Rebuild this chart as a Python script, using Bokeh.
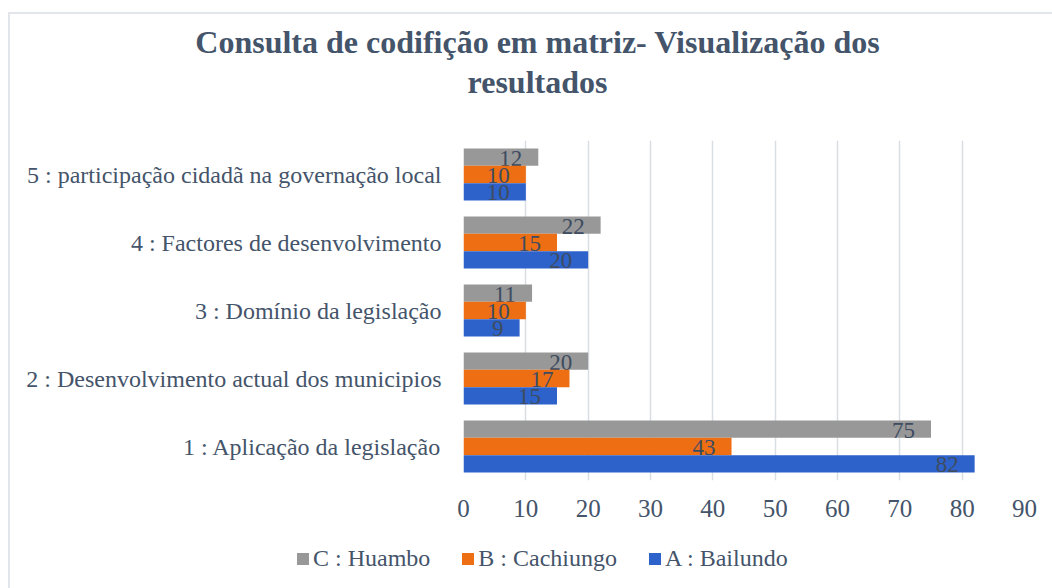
from bokeh.plotting import figure
from bokeh.layouts import column
from bokeh.models import (ColumnDataSource, FactorRange, Range1d, FixedTicker, Legend,
                          LegendItem, Div)
from bokeh.transform import dodge
from bokeh.core.properties import value
from bokeh.embed import file_html
from bokeh.resources import INLINE

# ---- data ----
categories = [
    "1 : Aplicação da legislação",
    "2 : Desenvolvimento actual dos municipios",
    "3 : Domínio da legislação",
    "4 : Factores de desenvolvimento",
    "5 : participação cidadã na governação local",
]
a_bailundo = [82, 15, 9, 20, 10]
b_cachiungo = [43, 17, 10, 15, 10]
c_huambo = [75, 20, 11, 22, 12]
series_names = ["C : Huambo", "B : Cachiungo", "A : Bailundo"]
x_ticks = [0, 10, 20, 30, 40, 50, 60, 70, 80, 90]
title_line1 = "Consulta de codifição em matriz- Visualização dos"
title_line2 = "resultados"

FONT = "Liberation Serif"
SLATE = "#44546A"
colors = {"c": "#989898", "b": "#EE6E14", "a": "#2D62CA"}

src = ColumnDataSource(dict(
    cat=categories,
    a=a_bailundo, b=b_cachiungo, c=c_huambo,
    a_s=[str(v) for v in a_bailundo],
    b_s=[str(v) for v in b_cachiungo],
    c_s=[str(v) for v in c_huambo],
))

# ---- title ----
title_div = Div(
    text=(f'<div style="box-sizing:border-box; width:1042px; padding-left:13px; padding-top:8px; '
          f'text-align:center; font-family:\'{FONT}\'; font-weight:bold; font-size:32px; '
          f'line-height:40px; color:{SLATE}; white-space:nowrap;">'
          f'{title_line1}<br>{title_line2}</div>'),
    width=1042, height=100, margin=0)

# ---- main chart ----
p = figure(width=1042, height=424, output_backend="svg", toolbar_location=None,
           y_range=FactorRange(factors=categories, range_padding=0),
           x_range=Range1d(0, 90))
p.min_border_left = 453
p.min_border_right = 28
p.min_border_top = 26
p.min_border_bottom = 58
p.outline_line_color = None
p.background_fill_color = "white"
p.border_fill_color = "white"

bh = 0.255
offs = {"c": bh, "b": 0.0, "a": -bh}
for key in ["c", "b", "a"]:
    p.hbar(y=dodge("cat", offs[key], range=p.y_range), left=0, right=key,
           height=bh, source=src, fill_color=colors[key], line_color=None)
    p.text(x=key, y=dodge("cat", offs[key], range=p.y_range), text=key + "_s", source=src,
           text_align="right", text_baseline="middle", x_offset=-16, y_offset=1,
           text_font=value(FONT), text_font_size="23px", text_color="#3E4C61")

p.xaxis.ticker = FixedTicker(ticks=x_ticks)
p.xaxis.axis_line_color = None
p.xaxis.major_tick_line_color = None
p.xaxis.minor_tick_line_color = None
p.xaxis.major_label_text_font = FONT
p.xaxis.major_label_text_font_size = "25px"
p.xaxis.major_label_text_color = SLATE
p.xaxis.major_label_standoff = 13

p.yaxis.axis_line_color = None
p.yaxis.major_tick_line_color = None
p.yaxis.minor_tick_line_color = None
p.yaxis.major_label_text_font = FONT
p.yaxis.major_label_text_font_size = "24px"
p.yaxis.major_label_text_color = SLATE
p.yaxis.major_label_standoff = 16

p.ygrid.grid_line_color = None
p.xgrid.grid_line_color = "#D9DEE4"
p.xgrid.grid_line_width = 1.5

# ---- legend strip ----
lg = figure(width=1042, height=50, output_backend="svg", toolbar_location=None,
            x_axis_location=None, y_axis_location=None, x_range=Range1d(0, 1),
            y_range=Range1d(0, 1), min_border=0)
lg.frame_align = False
lg.outline_line_color = None
lg.grid.grid_line_color = None
swatch = ColumnDataSource(dict(x=[float("nan")], y=[float("nan")]))
items = []
for name, key in zip(series_names, ["c", "b", "a"]):
    r = lg.rect(x="x", y="y", width=0.01, height=0.01, source=swatch,
                fill_color=colors[key], line_color=None)
    items.append(LegendItem(label=name, renderers=[r]))
legend = Legend(items=items, orientation="horizontal", location=(285, 16),
                label_text_font=FONT, label_text_font_size="24px", label_text_color=SLATE,
                glyph_width=15, glyph_height=15, label_standoff=3, spacing=30,
                border_line_color=None, background_fill_alpha=0, padding=5)
lg.add_layout(legend, "center")

page = column(title_div, p, lg, spacing=0,
              styles={"margin-left": "8px", "margin-top": "12px",
                      "border-left": "2px solid #E2E6EB", "border-top": "2px solid #E2E6EB"})

open("out.html", "w").write(file_html(page, INLINE))
